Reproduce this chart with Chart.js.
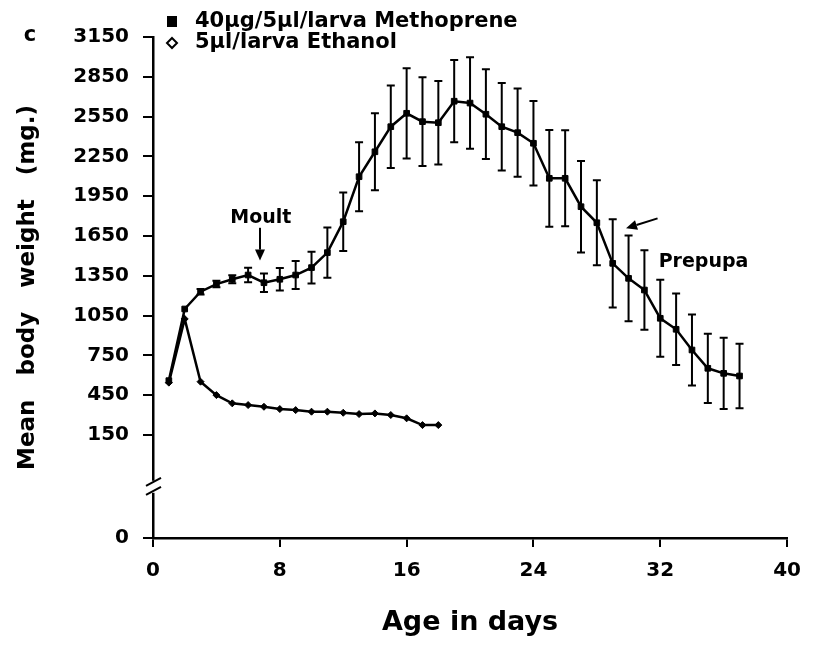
<!DOCTYPE html>
<html>
<head>
<meta charset="utf-8">
<script src="https://cdn.jsdelivr.net/npm/chart.js@4.4.1/dist/chart.umd.min.js"></script>
<style>
  html, body { margin: 0; padding: 0; background: #fff; }
  #weightChart { display: block; }
</style>
</head>
<body>
<canvas id="weightChart" width="813" height="645"></canvas>
<script>
// --- Data: mean body weight (mg) by age (days) ---
const methopreneDays = [1, 2, 3, 4, 5, 6, 7, 8, 9, 10, 11, 12, 13, 14, 15, 16, 17, 18, 19,
  20, 21, 22, 23, 24, 25, 26, 27, 28, 29, 30, 31, 32, 33, 34, 35, 36, 37];
const methopreneWeight = [560, 1100, 1230, 1288, 1324, 1356, 1298, 1324, 1356, 1412, 1525,
  1758, 2097, 2285, 2474, 2575, 2512, 2504, 2666, 2652, 2568, 2474, 2429, 2349, 2085, 2085,
  1871, 1750, 1444, 1331, 1243, 1030, 947, 791, 653, 615, 595];
const methopreneError = [0, 0, 20, 25, 30, 55, 70, 85, 105, 120, 190, 220, 260, 290, 311,
  340, 335, 315, 310, 345, 338, 330, 332, 318, 365, 362, 345, 320, 333, 323, 300, 290, 270,
  268, 261, 268, 243];

const ethanolDays = [1, 2, 3, 4, 5, 6, 7, 8, 9, 10, 11, 12, 13, 14, 15, 16, 17, 18];
const ethanolWeight = [545, 1025, 552, 451, 389, 376, 363, 346, 338, 326, 326, 318, 308,
  313, 301, 276, 225, 225];

const seriesLabels = ['40\u00b5g/5\u00b5l/larva Methoprene', '5\u00b5l/larva Ethanol'];
const xTickValues = [0, 8, 16, 24, 32, 40];
const yTickValues = [150, 450, 750, 1050, 1350, 1650, 1950, 2250, 2550, 2850, 3150];

// the y axis is broken below 150: its "0" sits at this value
const yFloor = -626;
const yBreak = -240;

const FONT = '"DejaVu Sans", "Liberation Sans", sans-serif';
const ctx = document.getElementById('weightChart').getContext('2d');

// vertical error bars with caps on the methoprene series
const errorBars = {
  id: 'errorBars',
  afterDatasetsDraw(chart) {
    const { ctx, scales: { x, y } } = chart;
    ctx.save();
    ctx.strokeStyle = '#000';
    ctx.lineWidth = 2;
    methopreneDays.forEach((d, i) => {
      const e = methopreneError[i];
      if (!e) return;
      const px = x.getPixelForValue(d);
      const top = y.getPixelForValue(methopreneWeight[i] + e);
      const bot = y.getPixelForValue(methopreneWeight[i] - e);
      ctx.beginPath();
      ctx.moveTo(px, top); ctx.lineTo(px, bot);
      ctx.moveTo(px - 4, top); ctx.lineTo(px + 4, top);
      ctx.moveTo(px - 4, bot); ctx.lineTo(px + 4, bot);
      ctx.stroke();
    });
    ctx.restore();
  }
};

function arrow(ctx, x1, y1, x2, y2) {
  const ang = Math.atan2(y2 - y1, x2 - x1);
  const len = 11, half = 5;
  const bx = x2 - len * Math.cos(ang), by = y2 - len * Math.sin(ang);
  ctx.beginPath();
  ctx.moveTo(x1, y1);
  ctx.lineTo(bx, by);
  ctx.stroke();
  ctx.beginPath();
  ctx.moveTo(x2, y2);
  ctx.lineTo(bx + half * Math.sin(ang), by - half * Math.cos(ang));
  ctx.lineTo(bx - half * Math.sin(ang), by + half * Math.cos(ang));
  ctx.closePath();
  ctx.fill();
}

// "Moult" / "Prepupa" notes, legend, panel letter and the axis break
const decorations = {
  id: 'decorations',
  afterDraw(chart) {
    const { ctx, scales: { x, y } } = chart;
    ctx.save();
    ctx.fillStyle = '#000';
    ctx.strokeStyle = '#000';
    ctx.lineWidth = 2;

    ctx.font = 'bold 19px ' + FONT;
    ctx.textBaseline = 'middle';
    ctx.textAlign = 'center';
    ctx.fillText('Moult', x.getPixelForValue(6.8), y.getPixelForValue(1786));
    arrow(ctx, x.getPixelForValue(6.75), y.getPixelForValue(1712),
      x.getPixelForValue(6.75), y.getPixelForValue(1465));

    ctx.textAlign = 'left';
    ctx.fillText('Prepupa', x.getPixelForValue(31.9), y.getPixelForValue(1456));
    arrow(ctx, x.getPixelForValue(31.83), y.getPixelForValue(1783),
      x.getPixelForValue(29.84), y.getPixelForValue(1708));

    // panel letter
    ctx.textAlign = 'center';
    ctx.font = 'bold 21px ' + FONT;
    ctx.fillText('c', 30, 36);

    // legend
    ctx.textAlign = 'left';
    ctx.font = 'bold 21px ' + FONT;
    ctx.fillRect(167, 16, 10, 11);
    ctx.fillText(seriesLabels[0], 195, 22);
    ctx.beginPath();
    ctx.moveTo(172, 38); ctx.lineTo(177, 43); ctx.lineTo(172, 48); ctx.lineTo(167, 43);
    ctx.closePath();
    ctx.stroke();
    ctx.fillText(seriesLabels[1], 195, 43);

    // break on the y axis
    const ax = x.left;
    const by = y.getPixelForValue(yBreak);
    ctx.fillStyle = '#fff';
    ctx.fillRect(ax - 3, by - 6, 6, 12);
    ctx.beginPath();
    ctx.moveTo(ax - 7, by - 1); ctx.lineTo(ax + 8, by - 9);
    ctx.moveTo(ax - 7, by + 8); ctx.lineTo(ax + 8, by);
    ctx.stroke();
    ctx.restore();
  }
};

const pairs = (xs, ys) => xs.map((d, i) => ({ x: d, y: ys[i] }));

new Chart(ctx, {
  type: 'line',
  data: {
    datasets: [
      {
        label: seriesLabels[0],
        data: pairs(methopreneDays, methopreneWeight),
        borderColor: '#000',
        borderWidth: 2.5,
        pointStyle: 'rect',
        pointRadius: 4,
        pointBackgroundColor: '#000',
        pointBorderColor: '#000',
        pointBorderWidth: 1,
        tension: 0
      },
      {
        label: seriesLabels[1],
        data: pairs(ethanolDays, ethanolWeight),
        borderColor: '#000',
        borderWidth: 2.5,
        pointStyle: 'rectRot',
        pointRadius: 3.5,
        pointBackgroundColor: '#000',
        pointBorderColor: '#000',
        pointBorderWidth: 1,
        tension: 0
      }
    ]
  },
  options: {
    responsive: false,
    animation: false,
    devicePixelRatio: 1,
    layout: { padding: { top: 37, right: 25, left: 0, bottom: 0 } },
    plugins: { legend: { display: false }, tooltip: { enabled: false } },
    scales: {
      x: {
        type: 'linear',
        min: 0,
        max: 40,
        afterBuildTicks: s => { s.ticks = xTickValues.map(v => ({ value: v })); },
        afterFit: s => { s.height = 107; },
        grid: { drawOnChartArea: false, tickLength: 9, color: '#000', lineWidth: 2 },
        border: { color: '#000', width: 2.5 },
        ticks: {
          color: '#000',
          padding: 12,
          maxRotation: 0,
          font: { family: FONT, size: 20, weight: 'bold' },
          callback: v => String(v)
        },
        title: {
          display: true,
          text: 'Age in days',
          color: '#000',
          font: { family: FONT, size: 27, weight: 'bold' },
          padding: { top: 0, bottom: 6 }
        }
      },
      y: {
        type: 'linear',
        min: yFloor,
        max: 3150,
        afterBuildTicks: s => { s.ticks = [yFloor, ...yTickValues].map(v => ({ value: v })); },
        afterFit: s => { s.width = 153; },
        grid: { drawOnChartArea: false, tickLength: 10, color: '#000', lineWidth: 2 },
        border: { color: '#000', width: 2.5 },
        ticks: {
          color: '#000',
          padding: 14,
          font: { family: FONT, size: 20, weight: 'bold' },
          callback: v => (v === yFloor ? '0' : String(v))
        },
        title: {
          display: true,
          text: 'Mean   body   weight   (mg.)',
          color: '#000',
          font: { family: FONT, size: 23, weight: 'bold' },
          padding: { top: 14, bottom: 0 }
        }
      }
    }
  },
  plugins: [errorBars, decorations]
});
</script>
</body>
</html>
